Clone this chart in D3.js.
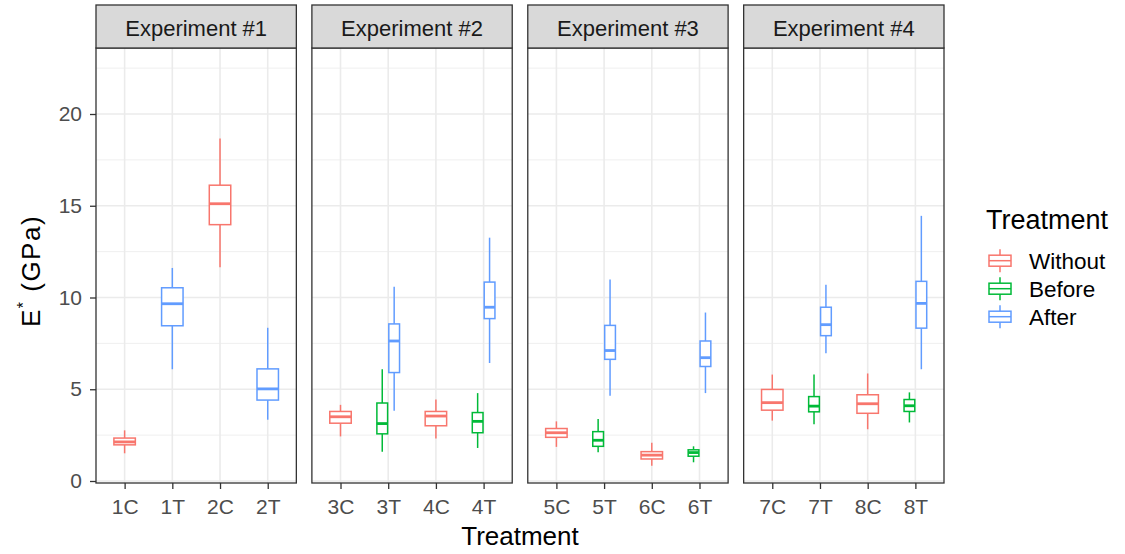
<!DOCTYPE html>
<html><head><meta charset="utf-8">
<script src="https://cdn.jsdelivr.net/npm/d3@7"></script>
<style>body{margin:0;background:#fff}svg{display:block;font-family:"Liberation Sans",Arial,sans-serif}</style>
</head><body><svg id="c" width="1125" height="554"></svg>
<script>
const experiments = ["Experiment #1","Experiment #2","Experiment #3","Experiment #4"];
const categories = [["1C","1T","2C","2T"],["3C","3T","4C","4T"],["5C","5T","6C","6T"],["7C","7T","8C","8T"]];
const treatments = ["Without","Before","After"];
const colors = ["#F8766D","#00BA38","#619CFF"];
const yTicks = [0,5,10,15,20];
const yMinor = [2.5,7.5,12.5,17.5,22.5];
// [category, lower whisker, Q1, median, Q3, upper whisker]
const withoutStats = [
  ["1C",1.51,1.97,2.13,2.34,2.76],["2C",11.65,13.97,15.11,16.12,18.67],
  ["3C",2.43,3.15,3.50,3.79,4.15],["4C",2.32,3.01,3.54,3.79,4.44],
  ["5C",1.86,2.38,2.63,2.86,3.25],["6C",0.83,1.20,1.41,1.60,2.09],
  ["7C",3.29,3.86,4.27,4.99,5.80],["8C",2.82,3.69,4.21,4.70,5.86]];
const beforeStats = [
  ["3T",1.60,2.57,3.13,4.25,6.09],["4T",1.80,2.63,3.25,3.73,4.79],
  ["5T",1.57,1.89,2.22,2.69,3.38],["6T",1.02,1.35,1.55,1.70,1.89],
  ["7T",3.09,3.77,4.08,4.60,5.80],["8T",3.19,3.79,4.10,4.44,4.83]];
const afterStats = [
  ["1T",6.09,8.46,9.66,10.53,11.61],["2T",3.34,4.41,5.02,6.11,8.35],
  ["3T",3.83,5.91,7.63,8.56,10.59],["4T",6.43,8.85,9.47,10.84,13.26],
  ["5T",4.64,6.63,7.11,8.48,10.98],["6T",4.79,6.24,6.72,7.63,9.18],
  ["7T",6.96,7.92,8.52,9.47,10.69],["8T",6.09,8.33,9.68,10.88,14.45]];

const svg = d3.select("#c");
const stripTop = 5, panelTop = 48, panelBottom = 483;
const panelX = d3.scaleBand().domain(experiments).range([96, 944]).paddingInner(0.072);
const pw = panelX.bandwidth();
const y = d3.scaleLinear().domain([-0.109, 23.597]).range([panelBottom, panelTop]);
const FONT = "Liberation Sans, Arial, sans-serif";

const allStats = [withoutStats, beforeStats, afterStats];
const rows = [];
allStats.forEach((arr, ti) => arr.forEach(r => rows.push({cat:r[0], t:ti, lo:r[1], q1:r[2], med:r[3], q3:r[4], hi:r[5]})));

experiments.forEach((exp, ei) => {
  const x0 = panelX(exp);
  const g = svg.append("g").attr("transform", `translate(${x0},0)`);
  const cats = categories[ei];
  const xs = d3.scaleLinear().domain([0.4, 4.6]).range([0, pw]);
  const unit = xs(1) - xs(0);
  g.selectAll(".mn").data(yMinor).join("line")
    .attr("x1",0).attr("x2",pw).attr("y1",d=>y(d)).attr("y2",d=>y(d))
    .attr("stroke","#EBEBEB").attr("stroke-width",0.8);
  g.selectAll(".mj").data(yTicks).join("line")
    .attr("x1",0).attr("x2",pw).attr("y1",d=>y(d)).attr("y2",d=>y(d))
    .attr("stroke","#EBEBEB").attr("stroke-width",1.6);
  g.selectAll(".vx").data(cats).join("line")
    .attr("x1",(d,i)=>xs(i+1)).attr("x2",(d,i)=>xs(i+1)).attr("y1",panelTop).attr("y2",panelBottom)
    .attr("stroke","#EBEBEB").attr("stroke-width",1.6);
  cats.forEach((c, ci) => {
    const grp = rows.filter(r => r.cat === c).sort((a,b)=>a.t-b.t);
    const n = grp.length;
    const slot = 0.5 / n;
    grp.forEach((r, k) => {
      const cx = xs(ci + 1 - 0.25 + slot*(k+0.5));
      const bw = slot*0.9*unit;
      const col = colors[r.t];
      const bg = g.append("g");
      bg.append("line").attr("x1",cx).attr("x2",cx).attr("y1",y(r.hi)).attr("y2",y(r.q3)).attr("stroke",col).attr("stroke-width",1.5);
      bg.append("line").attr("x1",cx).attr("x2",cx).attr("y1",y(r.q1)).attr("y2",y(r.lo)).attr("stroke",col).attr("stroke-width",1.5);
      bg.append("rect").attr("x",cx-bw/2).attr("y",y(r.q3)).attr("width",bw).attr("height",y(r.q1)-y(r.q3))
        .attr("fill","#fff").attr("stroke",col).attr("stroke-width",1.5);
      bg.append("line").attr("x1",cx-bw/2).attr("x2",cx+bw/2).attr("y1",y(r.med)).attr("y2",y(r.med)).attr("stroke",col).attr("stroke-width",2.8);
    });
  });
  g.append("rect").attr("x",0).attr("y",panelTop).attr("width",pw).attr("height",panelBottom-panelTop)
    .attr("fill","none").attr("stroke","#333333").attr("stroke-width",1.3);
  g.append("rect").attr("x",0).attr("y",stripTop).attr("width",pw).attr("height",panelTop-stripTop)
    .attr("fill","#D9D9D9").attr("stroke","#333333").attr("stroke-width",1.3);
  g.append("text").attr("x",pw/2).attr("y",36)
    .attr("text-anchor","middle").attr("font-size",22).attr("fill","#1A1A1A").text(exp);
  const xa = g.append("g").attr("transform",`translate(0,${panelBottom})`)
    .call(d3.axisBottom(xs).tickValues([1,2,3,4]).tickFormat((d)=>cats[d-1]).tickSize(6).tickPadding(10));
  xa.select(".domain").remove();
  xa.selectAll("line").attr("stroke","#333333").attr("stroke-width",1.3);
  xa.selectAll("text").attr("font-size",21).attr("fill","#4D4D4D").attr("font-family",FONT);
});

const ya = svg.append("g").attr("transform",`translate(96,0)`)
  .call(d3.axisLeft(y).tickValues(yTicks).tickSize(6).tickPadding(8));
ya.select(".domain").remove();
ya.selectAll("line").attr("stroke","#333333").attr("stroke-width",1.3);
ya.selectAll("text").attr("font-size",21).attr("fill","#4D4D4D").attr("font-family",FONT);

svg.append("text").attr("x",(96+944)/2).attr("y",545).attr("text-anchor","middle")
  .attr("font-size",26).attr("fill","#000").text("Treatment");
const yt = svg.append("text").attr("transform",`translate(40,271) rotate(-90)`)
  .attr("text-anchor","middle").attr("font-size",26).attr("letter-spacing",1.5).attr("fill","#000");
yt.append("tspan").text("E");
yt.append("tspan").attr("dy",-11).attr("font-size",16).text("*");
yt.append("tspan").attr("dy",11).text(" (GPa)");

const lg = svg.append("g").attr("transform","translate(985,0)");
lg.append("text").attr("x",1).attr("y",229).attr("font-size",27).attr("fill","#000").text("Treatment");
treatments.forEach((t, i) => {
  const cy = 260.7 + i*28;
  const col = colors[i];
  const kx = 15;
  lg.append("line").attr("x1",kx).attr("x2",kx).attr("y1",cy-11.5).attr("y2",cy+11.5).attr("stroke",col).attr("stroke-width",1.5);
  lg.append("rect").attr("x",kx-11).attr("y",cy-5.5).attr("width",22).attr("height",11).attr("fill","#fff").attr("stroke",col).attr("stroke-width",1.5);
  lg.append("line").attr("x1",kx-11).attr("x2",kx+11).attr("y1",cy).attr("y2",cy).attr("stroke",col).attr("stroke-width",1.5);
  lg.append("text").attr("x",44).attr("y",cy).attr("dy","0.35em").attr("font-size",22.5).attr("fill","#000").text(t);
});
</script></body></html>
